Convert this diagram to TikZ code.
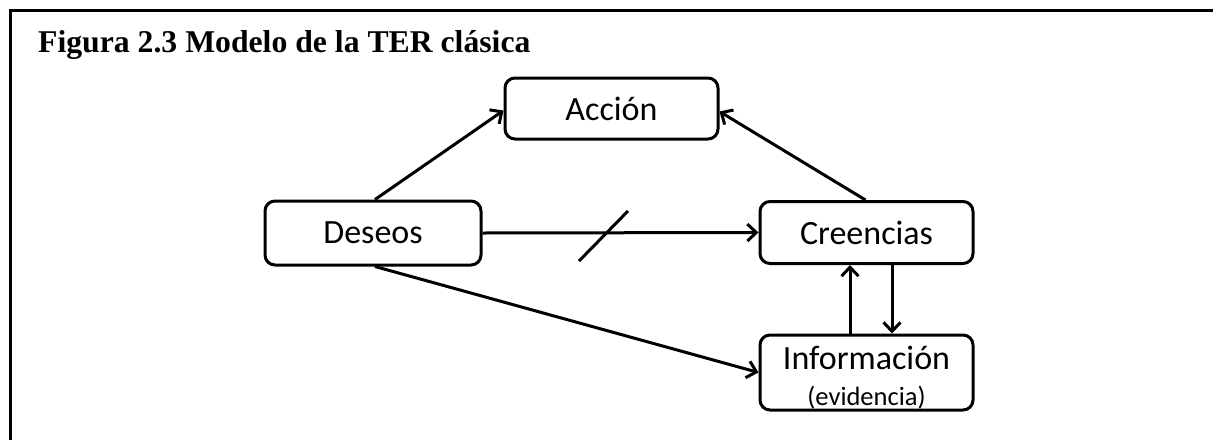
\documentclass[tikz,border=0pt]{standalone}
\usepackage{fontspec}
\setmainfont{Liberation Serif}
\newfontfamily\boxfont{Carlito}
\usetikzlibrary{arrows.meta}

\tikzset{
  box/.style={draw=black, line width=3pt, rounded corners=10pt, fill=white,
    inner sep=0pt, font=\boxfont\fontsize{34}{40}\selectfont},
  arr/.style={draw=black, line width=3pt,
    -{Straight Barb[length=9pt,width=17pt,line width=3pt]}},
  frameline/.style={draw=black, line width=3pt},
}

\begin{document}
\begin{tikzpicture}[x=1pt,y=-1pt]
  \useasboundingbox (0,0) rectangle (1213,440);
  \fill[white] (0,0) rectangle (1213,440);

  % open frame: left and top edges
  \draw[frameline] (10,440) -- (10,10) -- (1213,10);

  % caption
  \node[anchor=base west, inner sep=0pt,
        font=\bfseries\fontsize{31.7}{36}\selectfont] (title) at (38,52)
        {Figura 2.3 Modelo de la TER clásica};

  % boxes
  \node[box, minimum width=213pt, minimum height=61pt] (acc) at (611.5,108.5) {Acción};
  \node[box, minimum width=216pt, minimum height=64pt] (des) at (373,233) {Deseos};
  \node[box, minimum width=213pt, minimum height=62pt] (cre) at (866.5,232.5) {Creencias};
  \node[box, minimum width=213pt, minimum height=75pt, align=center] (inf) at (866.5,372.5)
    {\rule{0pt}{34pt}Información\\[-4pt]{\fontsize{26.5}{30}\selectfont (evidencia)}};

  % connectors
  \draw[arr] ([xshift=2pt]des.north) -- ([yshift=-2pt]acc.west);
  \draw[arr] ([xshift=-1pt]cre.north) -- ([yshift=-3pt]acc.east);
  \draw[arr] (des.east) -- (cre.west);
  \draw[arr] ([xshift=2pt]des.south) -- (inf.west);
  \draw[arr] ([xshift=-16.5pt]inf.north) -- ([xshift=-16.5pt]cre.south);
  \draw[arr] ([xshift=25.5pt]cre.south) -- ([xshift=25.5pt]inf.north);

  % slash across the Deseos -> Creencias link
  \draw[frameline] (579,261) -- (628,211);
\end{tikzpicture}
\end{document}
